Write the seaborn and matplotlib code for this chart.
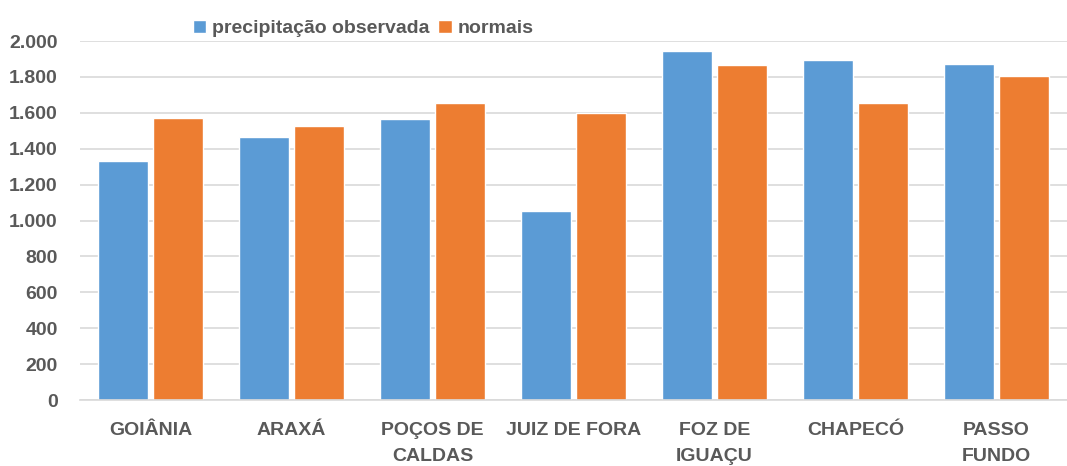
import matplotlib
matplotlib.use("Agg")
import matplotlib.pyplot as plt
import matplotlib.ticker as mticker
import seaborn as sns
import pandas as pd

# data (mm)
cidades = ['GOIÂNIA', 'ARAXÁ', 'POÇOS DE\nCALDAS', 'JUIZ DE FORA',
           'FOZ DE\nIGUAÇU', 'CHAPECÓ', 'PASSO\nFUNDO']
observada = [1331, 1465, 1565, 1055, 1946, 1896, 1872]
normais = [1573, 1528, 1656, 1597, 1868, 1655, 1805]
series = ['precipitação observada', 'normais']

df = pd.DataFrame({
    'cidade': cidades * 2,
    'valor': observada + normais,
    'serie': [series[0]] * len(cidades) + [series[1]] * len(cidades),
})

sns.set_theme(style="white")
plt.rcParams['font.family'] = ['Liberation Sans Narrow', 'Liberation Sans', 'DejaVu Sans']

fig = plt.figure(figsize=(10.67, 4.66), dpi=100)
ax = fig.add_axes([0.075, 0.1416, 0.925, 0.7704])

sns.barplot(data=df, x='cidade', y='valor', hue='serie', hue_order=series,
            palette=['#5B9BD5', '#ED7D31'], width=0.78, gap=0.1,
            saturation=1, ax=ax, legend=True)

ax.set_ylim(0, 2000)
ax.set_xlim(-0.5, len(cidades) - 0.5)
ax.yaxis.set_major_locator(mticker.MultipleLocator(200))
ax.yaxis.set_major_formatter(mticker.FuncFormatter(lambda v, p: f"{int(v):,}".replace(',', '.')))
ax.grid(axis='y', color='#D9D9D9', linewidth=1.2)
ax.set_axisbelow(True)
for s in ['top', 'right', 'left']:
    ax.spines[s].set_visible(False)
ax.spines['bottom'].set_color('#D9D9D9')
ax.spines['bottom'].set_linewidth(1.2)
ax.tick_params(axis='both', length=0, labelsize=14, labelcolor='#595959')
ax.tick_params(axis='y', pad=16)
ax.tick_params(axis='x', pad=16)
for lab in ax.get_xticklabels() + ax.get_yticklabels():
    lab.set_fontweight('bold')
for lab in ax.get_xticklabels():
    lab.set_linespacing(1.65)
ax.set_xlabel('')
ax.set_ylabel('')

leg = ax.legend(loc='upper left', bbox_to_anchor=(177 / 1067, 1 - 4 / 466),
                bbox_transform=fig.transFigure, ncol=2, frameon=False,
                handlelength=0.7, handleheight=0.7, handletextpad=0.3,
                columnspacing=0.45, borderpad=0.3, prop={'size': 14, 'weight': 'bold'})
for t in leg.get_texts():
    t.set_color('#595959')

fig.savefig('out.png', dpi=100)
